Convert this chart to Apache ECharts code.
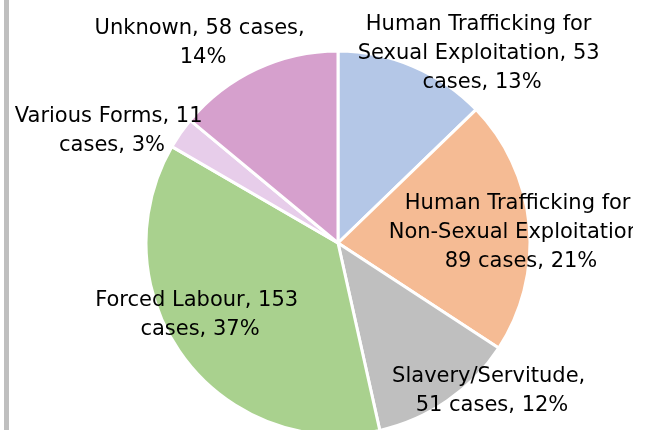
<!DOCTYPE html>
<html>
<head>
<meta charset="utf-8">
<script src="https://cdn.jsdelivr.net/npm/echarts@6/dist/echarts.min.js"></script>
<style>
  html, body { margin: 0; padding: 0; background: #fff; }
  #wrap { position: relative; width: 653px; height: 430px; overflow: hidden; }
  #bar { position: absolute; left: 4px; top: 0; width: 5px; height: 430px; background: #bfbfbf; }
  #chart { position: absolute; left: 0; top: 0; width: 633px; height: 430px; }
</style>
</head>
<body>
<div id="wrap"><div id="chart"></div><div id="bar"></div></div>
<script>
var categories = ['Human Trafficking for Sexual Exploitation', 'Human Trafficking for Non-Sexual Exploitation',
                  'Slavery/Servitude', 'Forced Labour', 'Various Forms', 'Unknown'];
var cases = [53, 89, 51, 153, 11, 58];
var colors = ['#b4c7e7', '#f5bb94', '#bfbfbf', '#a9d18e', '#e7cdea', '#d6a0cd'];

// where Excel put each label (block centre) and how wide it wraps
var labelAt = [[482, 54], [521, 233], [492, 391], [200, 315], [112, 131], [203, 43]];
var labelWidth = [252, 268, 205, 212, 198, 218];

var chart = echarts.init(document.getElementById('chart'));

var data = [];
for (var i = 0; i < categories.length; i++) {
    data.push({
        name: categories[i],
        value: cases[i],
        itemStyle: { color: colors[i] },
        label: { width: labelWidth[i] }
    });
}

chart.setOption({
    animation: false,
    series: [{
        type: 'pie',
        center: [338, 243],
        radius: 192,
        startAngle: 90,
        clockwise: true,
        itemStyle: { borderColor: '#fff', borderWidth: 3 },
        label: {
            position: 'inside',
            overflow: 'break',
            align: 'center',
            color: '#000',
            fontFamily: 'DejaVu Sans',
            fontSize: 21,
            lineHeight: 29,
            formatter: function (p) {
                return p.name + ', ' + p.value + ' cases, ' + Math.round(p.percent) + '%';
            }
        },
        labelLine: { show: false },
        labelLayout: function (p) {
            var pos = labelAt[p.dataIndex];
            return { x: pos[0], y: pos[1], align: 'center', verticalAlign: 'middle' };
        },
        data: data
    }]
});
</script>
</body>
</html>
